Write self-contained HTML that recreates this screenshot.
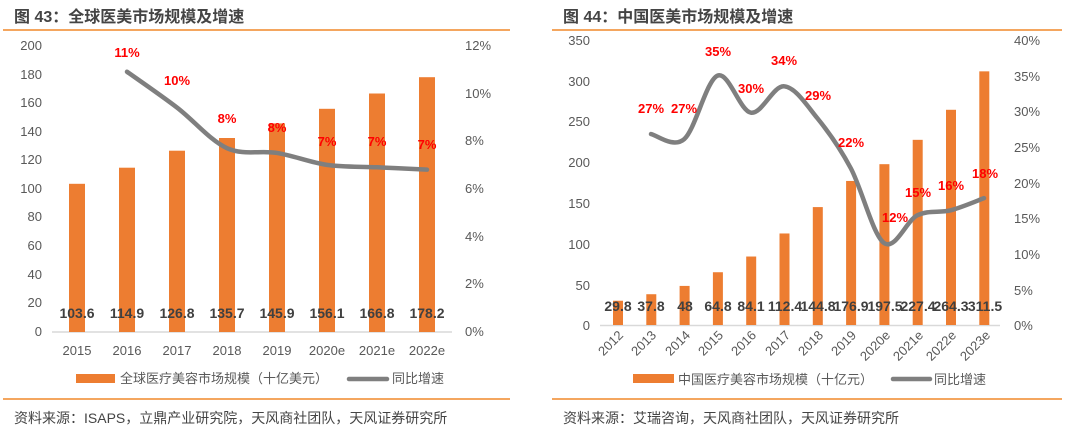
<!DOCTYPE html>
<html><head><meta charset="utf-8"><style>
body{margin:0;background:#fff;width:1080px;height:430px;overflow:hidden;font-family:"Liberation Sans","Noto Sans CJK SC",sans-serif}
svg text{font-family:"Liberation Sans","Noto Sans CJK SC",sans-serif}
</style></head><body>
<svg width="1080" height="430" xmlns="http://www.w3.org/2000/svg">
<!-- titles -->
<text x="14" y="22" font-size="16" font-weight="bold" fill="#444">图 43：全球医美市场规模及增速</text>
<text x="563" y="22" font-size="16" font-weight="bold" fill="#444">图 44：中国医美市场规模及增速</text>
<line x1="3" y1="30" x2="510" y2="30" stroke="#f0882a" stroke-width="1.5"/>
<line x1="552" y1="30" x2="1062" y2="30" stroke="#f0882a" stroke-width="1.5"/>
<line x1="3" y1="399" x2="510" y2="399" stroke="#f0882a" stroke-width="1.5"/>
<line x1="552" y1="399" x2="1062" y2="399" stroke="#f0882a" stroke-width="1.5"/>
<text x="14" y="423" font-size="14" fill="#444">资料来源：ISAPS，立鼎产业研究院，天风商社团队，天风证券研究所</text>
<text x="563" y="423" font-size="14" fill="#444">资料来源：艾瑞咨询，天风商社团队，天风证券研究所</text>

<!-- LEFT CHART -->
<g font-size="13" fill="#595959" text-anchor="end">
<text x="42" y="50">200</text><text x="42" y="79">180</text><text x="42" y="107">160</text><text x="42" y="136">140</text><text x="42" y="164">120</text><text x="42" y="193">100</text><text x="42" y="221">80</text><text x="42" y="250">60</text><text x="42" y="279">40</text><text x="42" y="307">20</text><text x="42" y="336">0</text>
</g>
<g font-size="13" fill="#595959" text-anchor="start">
<text x="465" y="50">12%</text><text x="465" y="98">10%</text><text x="465" y="145">8%</text><text x="465" y="193">6%</text><text x="465" y="241">4%</text><text x="465" y="288">2%</text><text x="465" y="336">0%</text>
</g>
<line x1="52" y1="332" x2="452" y2="332" stroke="#d9d9d9" stroke-width="1.5"/>
<g fill="#ed7d31">
<rect x="69" y="183.8" width="16" height="148.2"/>
<rect x="119" y="167.7" width="16" height="164.3"/>
<rect x="169" y="150.7" width="16" height="181.3"/>
<rect x="219" y="138" width="16" height="194"/>
<rect x="269" y="123.4" width="16" height="208.6"/>
<rect x="319" y="108.8" width="16" height="223.2"/>
<rect x="369" y="93.5" width="16" height="238.5"/>
<rect x="419" y="77.2" width="16" height="254.8"/>
</g>
<path id="l1" fill="none" stroke="#7f7f7f" stroke-width="4.5" stroke-linecap="round"/>
<g font-size="14" font-weight="bold" fill="#404040" text-anchor="middle">
<text x="77" y="318">103.6</text><text x="127" y="318">114.9</text><text x="177" y="318">126.8</text><text x="227" y="318">135.7</text><text x="277" y="318">145.9</text><text x="327" y="318">156.1</text><text x="377" y="318">166.8</text><text x="427" y="318">178.2</text>
</g>
<g font-size="13" font-weight="bold" fill="#ff0000" text-anchor="middle">
<text x="127" y="57">11%</text><text x="177" y="85">10%</text><text x="227" y="123">8%</text><text x="277" y="132">8%</text><text x="327" y="146">7%</text><text x="377" y="146">7%</text><text x="427" y="149">7%</text>
</g>
<g font-size="13" fill="#595959" text-anchor="middle">
<text x="77" y="355">2015</text><text x="127" y="355">2016</text><text x="177" y="355">2017</text><text x="227" y="355">2018</text><text x="277" y="355">2019</text><text x="327" y="355">2020e</text><text x="377" y="355">2021e</text><text x="427" y="355">2022e</text>
</g>
<rect x="76" y="374" width="39" height="9" fill="#ed7d31"/>
<text x="120" y="383" font-size="13" fill="#595959">全球医疗美容市场规模（十亿美元）</text>
<line x1="349" y1="379" x2="387" y2="379" stroke="#7f7f7f" stroke-width="4.5" stroke-linecap="round"/>
<text x="392" y="383" font-size="13" fill="#595959">同比增速</text>

<!-- RIGHT CHART -->
<g font-size="13" fill="#595959" text-anchor="end">
<text x="590" y="45">350</text><text x="590" y="86">300</text><text x="590" y="126">250</text><text x="590" y="167">200</text><text x="590" y="208">150</text><text x="590" y="249">100</text><text x="590" y="290">50</text><text x="590" y="330">0</text>
</g>
<g font-size="13" fill="#595959" text-anchor="start">
<text x="1014" y="45">40%</text><text x="1014" y="81">35%</text><text x="1014" y="116">30%</text><text x="1014" y="152">25%</text><text x="1014" y="188">20%</text><text x="1014" y="223">15%</text><text x="1014" y="259">10%</text><text x="1014" y="295">5%</text><text x="1014" y="330">0%</text>
</g>
<line x1="600" y1="325.5" x2="1000" y2="325.5" stroke="#d9d9d9" stroke-width="1.5"/>
<g fill="#ed7d31" id="rb"></g>
<path id="l2" fill="none" stroke="#7f7f7f" stroke-width="4.5" stroke-linecap="round"/>
<g font-size="14" font-weight="bold" fill="#404040" text-anchor="middle">
<text x="618" y="311">29.8</text><text x="651" y="311">37.8</text><text x="685" y="311">48</text><text x="718" y="311">64.8</text><text x="751" y="311">84.1</text><text x="785" y="311">112.4</text><text x="818" y="311">144.8</text><text x="851" y="311">176.9</text><text x="885" y="311">197.5</text><text x="918" y="311">227.4</text><text x="951" y="311">264.3</text><text x="985" y="311">311.5</text>
</g>
<g font-size="13" font-weight="bold" fill="#ff0000" text-anchor="middle">
<text x="651" y="113">27%</text><text x="684" y="113">27%</text><text x="718" y="56">35%</text><text x="751" y="93">30%</text><text x="784" y="65">34%</text><text x="818" y="100">29%</text><text x="851" y="147">22%</text><text x="895" y="222">12%</text><text x="918" y="197">15%</text><text x="951" y="190">16%</text><text x="985" y="178">18%</text>
</g>
<g font-size="13" fill="#595959" text-anchor="end" id="rx">
<text transform="translate(624,336) rotate(-45)">2012</text>
<text transform="translate(657,336) rotate(-45)">2013</text>
<text transform="translate(691,336) rotate(-45)">2014</text>
<text transform="translate(724,336) rotate(-45)">2015</text>
<text transform="translate(757,336) rotate(-45)">2016</text>
<text transform="translate(791,336) rotate(-45)">2017</text>
<text transform="translate(824,336) rotate(-45)">2018</text>
<text transform="translate(857,336) rotate(-45)">2019</text>
<text transform="translate(891,336) rotate(-45)">2020e</text>
<text transform="translate(924,336) rotate(-45)">2021e</text>
<text transform="translate(957,336) rotate(-45)">2022e</text>
<text transform="translate(991,336) rotate(-45)">2023e</text>
</g>
<rect x="633" y="374" width="41" height="9" fill="#ed7d31"/>
<text x="678" y="384" font-size="13" fill="#595959">中国医疗美容市场规模（十亿元）</text>
<line x1="893" y1="379" x2="930" y2="379" stroke="#7f7f7f" stroke-width="4.5" stroke-linecap="round"/>
<text x="934" y="384" font-size="13" fill="#595959">同比增速</text>
</svg>
<script>
function cr(p){var d="M"+p[0][0]+","+p[0][1];for(var i=0;i<p.length-1;i++){var a=p[i-1]||p[i],b=p[i],c=p[i+1],e=p[i+2]||c;d+=" C"+(b[0]+(c[0]-a[0])/6)+","+(b[1]+(c[1]-a[1])/6)+" "+(c[0]-(e[0]-b[0])/6)+","+(c[1]-(e[1]-b[1])/6)+" "+c[0]+","+c[1];}return d;}
var L=[10.9,9.4,7.7,7.5,7.0,6.9,6.8].map(function(v,i){return[127+50*i,332-v/12*286.5]});
document.getElementById("l1").setAttribute("d",cr(L));
var R=[26.8,26.1,35,29.8,33.5,29,22,11.5,15.4,16.1,17.8].map(function(v,i){return[651+33.3*i,325-v*7.125]});
document.getElementById("l2").setAttribute("d",cr(R));
var vals=[29.8,37.8,48,64.8,84.1,112.4,144.8,176.9,197.5,227.4,264.3,311.5],g=document.getElementById("rb");
vals.forEach(function(v,i){var r=document.createElementNS("http://www.w3.org/2000/svg","rect");var h=v*285/350;r.setAttribute("x",613+33.3*i);r.setAttribute("y",325-h);r.setAttribute("width",10);r.setAttribute("height",h);g.appendChild(r);});
</script>
</body></html>
